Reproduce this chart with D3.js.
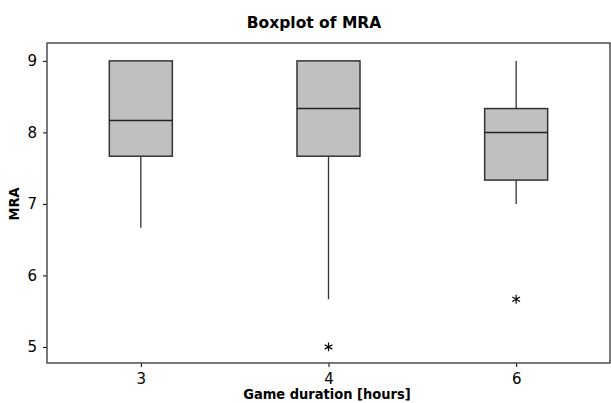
<!DOCTYPE html>
<html>
<head>
<meta charset="utf-8">
<script src="https://cdn.jsdelivr.net/npm/d3@7"></script>
<style>
  body { margin: 0; background: #fff; }
  svg text { font-family: "DejaVu Sans", Verdana, sans-serif; }
</style>
</head>
<body>
<div id="chart-area"></div>
<script>
// data
var categories = ["3", "4", "6"];
var whiskerLow = [6.667, 5.667, 7.0];
var q1 = [7.667, 7.667, 7.333];
var median = [8.167, 8.333, 8.0];
var q3 = [9.0, 9.0, 8.333];
var whiskerHigh = [9.0, 9.0, 9.0];
var outliers = [[], [5.0], [5.667]];
var yTicks = [5, 6, 7, 8, 9];

var margin = {left: 47, right: 1, top: 43, bottom: 40};
var width = 611 - margin.left - margin.right;
var height = 403 - margin.top - margin.bottom;

var x = d3.scalePoint()
    .domain(categories)
    .range([0, width])
    .padding(0.5);

var y = d3.scaleLinear()
    .domain([4.775, 9.25])
    .range([height, 0]);

var svg = d3.select("#chart-area")
    .append("svg")
    .attr("width", 611)
    .attr("height", 403);

// title
svg.append("text")
    .attr("x", 314)
    .attr("y", 28)
    .attr("text-anchor", "middle")
    .style("font-size", "15.5px")
    .style("font-weight", "bold")
    .text("Boxplot of MRA");

var g = svg.append("g")
    .attr("transform", "translate(" + margin.left + "," + margin.top + ")");

// axes
var leftAxis = d3.axisLeft(y).tickValues(yTicks).tickFormat(d3.format("d"))
    .tickSize(4).tickPadding(6);
var ya = g.append("g").call(leftAxis);
ya.select(".domain").remove();
ya.selectAll("text").attr("fill", "#000")
    .style("font-size", "15px")
    .style("font-family", "DejaVu Sans, sans-serif");
ya.selectAll("line").attr("stroke", "#000");

var bottomAxis = d3.axisBottom(x).tickSize(4).tickPadding(6);
var xa = g.append("g")
    .attr("transform", "translate(0," + height + ")")
    .call(bottomAxis);
xa.select(".domain").remove();
xa.selectAll("text").attr("fill", "#000")
    .style("font-size", "15px")
    .style("font-family", "DejaVu Sans, sans-serif");
xa.selectAll("line").attr("stroke", "#000");

// frame
g.append("rect")
    .attr("x", 0).attr("y", 0)
    .attr("width", width).attr("height", height)
    .attr("fill", "none")
    .attr("stroke", "#333")
    .attr("stroke-width", 1.3);

// axis labels
svg.append("text")
    .attr("x", 327)
    .attr("y", 399)
    .attr("text-anchor", "middle")
    .style("font-family", "'DejaVu Sans Condensed', 'DejaVu Sans', sans-serif")
    .style("font-size", "14.5px")
    .style("font-weight", "bold")
    .text("Game duration [hours]");

svg.append("text")
    .attr("transform", "translate(19," + (margin.top + y(7)) + ") rotate(-90)")
    .attr("text-anchor", "middle")
    .style("font-family", "'DejaVu Sans Condensed', 'DejaVu Sans', sans-serif")
    .style("font-size", "14.5px")
    .style("font-weight", "bold")
    .text("MRA");

// boxes
var boxW = 63;
var groups = g.selectAll(".box")
    .data(categories)
    .enter()
    .append("g")
    .attr("class", "box");

groups.append("line")
    .attr("x1", d => x(d)).attr("x2", d => x(d))
    .attr("y1", (d, i) => y(whiskerHigh[i]))
    .attr("y2", (d, i) => y(q3[i]))
    .attr("stroke", "#333").attr("stroke-width", 1.3);

groups.append("line")
    .attr("x1", d => x(d)).attr("x2", d => x(d))
    .attr("y1", (d, i) => y(q1[i]))
    .attr("y2", (d, i) => y(whiskerLow[i]))
    .attr("stroke", "#333").attr("stroke-width", 1.3);

groups.append("rect")
    .attr("x", d => x(d) - boxW / 2)
    .attr("width", boxW)
    .attr("y", (d, i) => y(q3[i]))
    .attr("height", (d, i) => y(q1[i]) - y(q3[i]))
    .attr("fill", "#c0c0c0")
    .attr("stroke", "#333")
    .attr("stroke-width", 1.5);

groups.append("line")
    .attr("x1", d => x(d) - boxW / 2).attr("x2", d => x(d) + boxW / 2)
    .attr("y1", (d, i) => y(median[i]))
    .attr("y2", (d, i) => y(median[i]))
    .attr("stroke", "#222").attr("stroke-width", 1.5);

// outliers
var star = d3.symbol().type(d3.symbolAsterisk).size(55);
categories.forEach(function(c, i) {
    g.selectAll(null)
        .data(outliers[i])
        .enter()
        .append("path")
        .attr("d", star)
        .attr("transform", d => "translate(" + x(c) + "," + y(d) + ")")
        .attr("fill", "none")
        .attr("stroke", "#000")
        .attr("stroke-width", 1.2);
});
</script>
</body>
</html>
